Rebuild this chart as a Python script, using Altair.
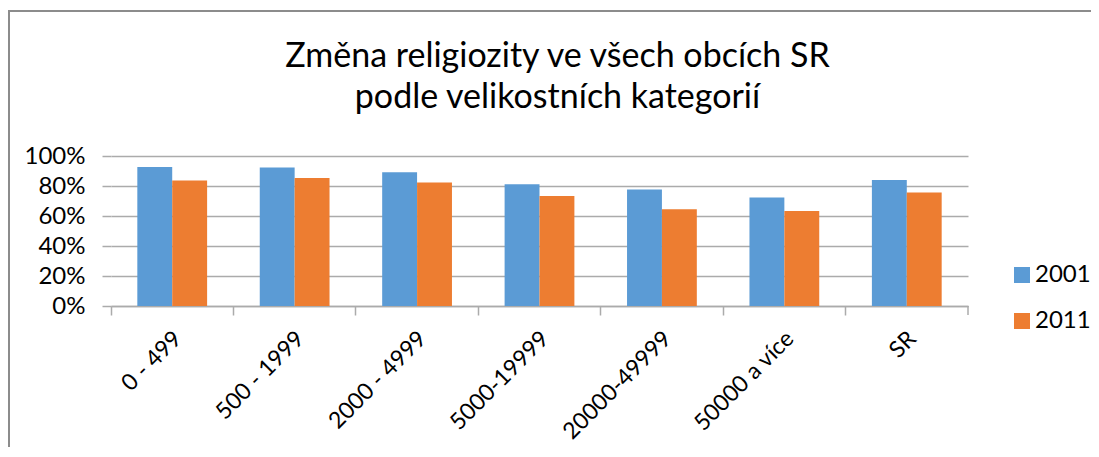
import altair as alt
import pandas as pd

categories = ["0 - 499", "500 - 1999", "2000 - 4999", "5000-19999", "20000-49999", "50000 a více", "SR"]
years = ["2001", "2011"]
values_2001 = [0.927, 0.923, 0.891, 0.811, 0.776, 0.723, 0.840]
values_2011 = [0.836, 0.853, 0.823, 0.733, 0.645, 0.633, 0.756]
title_lines = ["Změna religiozity ve všech obcích SR", "podle velikostních kategorií"]

rows = []
for c, a, b in zip(categories, values_2001, values_2011):
    rows.append({"kat": c, "rok": "2001", "v": a})
    rows.append({"kat": c, "rok": "2011", "v": b})
df = pd.DataFrame(rows)
one = pd.DataFrame({"k": [0]})

FONT = "Lato"
GRID = "#ABABAB"
FRAME = "#8C8C8C"
W, H = 857, 150
PAD_R = 123
PAD_B = 141

bars = alt.Chart(df).mark_bar().encode(
    x=alt.X("kat:N", sort=categories, title=None,
            scale=alt.Scale(paddingInner=0.43, paddingOuter=0.215),
            axis=alt.Axis(labelAngle=-45, labelAlign="right", labelBaseline="top",
                          bandPosition=-0.377, labelOffset=-2, labelPadding=12,
                          labelFontSize=23, labelFont=FONT, labelColor="#000000",
                          domainColor=GRID, domainWidth=1.5, tickColor=GRID,
                          tickWidth=1.5, tickSize=9, grid=False)),
    xOffset=alt.XOffset("rok:N", sort=years),
    y=alt.Y("v:Q", title=None,
            scale=alt.Scale(domain=[0, 1]),
            axis=alt.Axis(values=[0, 0.2, 0.4, 0.6, 0.8, 1.0], format=".0%",
                          domain=False, tickColor=GRID, tickWidth=1.5, tickSize=9,
                          gridColor=GRID, gridWidth=1.5, labelPadding=17,
                          labelFontSize=24, labelFont=FONT, labelColor="#000000")),
    color=alt.Color("rok:N", sort=years,
                    scale=alt.Scale(domain=years, range=["#5B9BD5", "#ED7D31"]),
                    legend=alt.Legend(title=None, orient="none", legendX=899, legendY=107,
                                      symbolType="square", symbolSize=256,
                                      symbolStrokeWidth=0, labelFontSize=24,
                                      labelFont=FONT, labelColor="#000000",
                                      rowPadding=22, labelOffset=1)),
)

# last category-boundary tick at the right end of the x axis
end_tick = alt.Chart(one).mark_rule(color=GRID, strokeWidth=1.5).encode(
    x=alt.value(W), y=alt.value(H), y2=alt.value(H + 9))

# chart frame (top and left edges)
frame_top = alt.Chart(one).mark_rule(color=FRAME, strokeWidth=2).encode(
    x=alt.value(-103), x2=alt.value(W + PAD_R), y=alt.value(-145))
frame_left = alt.Chart(one).mark_rule(color=FRAME, strokeWidth=2).encode(
    x=alt.value(-102), y=alt.value(-145), y2=alt.value(H + PAD_B))

# two-line chart title
title_1 = alt.Chart(pd.DataFrame({"t": [title_lines[0]]})).mark_text(
    font=FONT, fontSize=34, color="#000000", align="center", baseline="alphabetic"
).encode(text="t:N", x=alt.value(W / 2 + 18), y=alt.value(-89))
title_2 = alt.Chart(pd.DataFrame({"t": [title_lines[1]]})).mark_text(
    font=FONT, fontSize=34, color="#000000", align="center", baseline="alphabetic"
).encode(text="t:N", x=alt.value(W / 2 + 18), y=alt.value(-48))

chart = alt.layer(bars, end_tick, frame_top, frame_left, title_1, title_2).properties(
    width=W, height=H,
    autosize=alt.AutoSizeParams(type="none"),
    padding={"left": 103, "top": 148, "right": PAD_R, "bottom": PAD_B},
).configure_view(stroke=None)

chart.save("out.html", embed_options={"renderer": "svg", "actions": False})
